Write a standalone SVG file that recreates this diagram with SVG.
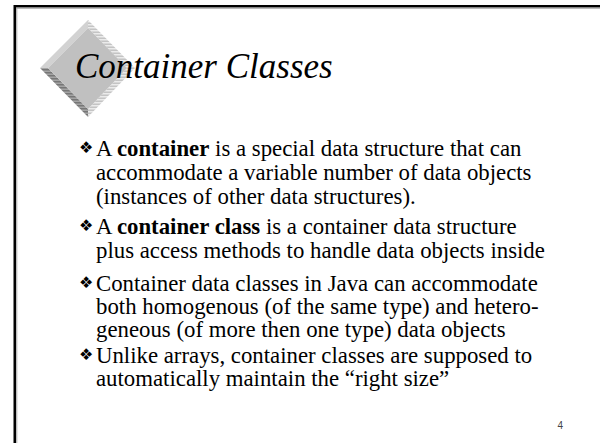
<svg xmlns="http://www.w3.org/2000/svg" width="600" height="443" viewBox="0 0 600 443">
<style>
.body{font-family:"Liberation Serif","Times New Roman",serif;font-size:22.8px;fill:#000}
.b{font-weight:bold}
.bul{font-family:"DejaVu Sans",sans-serif;font-size:16px;fill:#000}
.title{font-family:"Liberation Serif","Times New Roman",serif;font-style:italic;font-size:35px;fill:#000}
.pg{font-family:"Liberation Sans",Arial,sans-serif;font-size:10px;fill:#444}
</style>
<defs>
<pattern id="lite" width="6" height="3" patternUnits="userSpaceOnUse"><rect width="6" height="3" fill="#c4c4c4"/><rect width="6" height="1.5" fill="#ebebeb"/></pattern>
<pattern id="dark" width="6" height="3" patternUnits="userSpaceOnUse"><rect width="6" height="3" fill="#a4a4a4"/><rect width="6" height="1.5" fill="#767676"/></pattern>
</defs>
<rect width="600" height="443" fill="#fff"/>
<g id="frame">
<path d="M13.5 6.2H600M14.8 5V443" stroke="#000" stroke-width="2.6" fill="none"/>
<path d="M16 8.3H600M16.8 8V443" stroke="#aaa" stroke-width="1" fill="none"/>
</g>
<g id="diamond">
<polygon points="88,20 135,68 127,68 88,28" fill="url(#lite)"/>
<polygon points="135,68 88,117 88,109 127,68" fill="url(#lite)"/>
<polygon points="40,68 88,117 88,109 48,68" fill="url(#dark)"/>
<polygon points="88,20 88,28 48,68 40,68" fill="#d2d2d2"/>
<polygon points="88,28 127,68 88,109 48,68" fill="#c0c0c0"/>
</g>
<g id="title"><text class="title" x="75" y="78">Container Classes</text></g>
<g id="bullets">
<text class="bul" x="79" y="153">❖</text>
<text class="bul" x="79" y="231">❖</text>
<text class="bul" x="79" y="288">❖</text>
<text class="bul" x="79" y="360">❖</text>
</g>
<g id="text">
<text class="body" x="96" y="155.5">A <tspan class="b">container</tspan> is a special data structure that can</text>
<text class="body" x="96" y="180">accommodate a variable number of data objects</text>
<text class="body" x="96" y="204">(instances of other data structures).</text>
<text class="body" x="96" y="233.5">A <tspan class="b">container class</tspan> is a container data structure</text>
<text class="body" x="96" y="257.5">plus access methods to handle data objects inside</text>
<text class="body" x="96" y="290.5">Container data classes in Java can accommodate</text>
<text class="body" x="96" y="313.5">both homogenous (of the same type) and hetero-</text>
<text class="body" x="96" y="337">geneous (of more then one type) data objects</text>
<text class="body" x="96" y="362.5">Unlike arrays, container classes are supposed to</text>
<text class="body" x="96" y="386">automatically maintain the “right size”</text>
</g>
<g id="page"><text class="pg" x="557.5" y="429">4</text></g>
</svg>
